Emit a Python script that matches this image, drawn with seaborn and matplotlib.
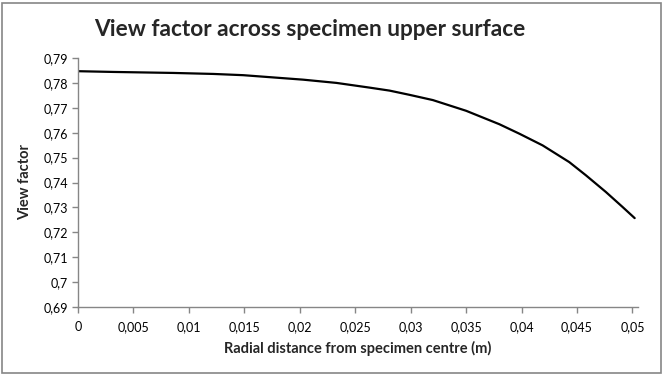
import matplotlib
matplotlib.use("Agg")
import matplotlib.pyplot as plt
import matplotlib.patches as mpatches
from matplotlib.ticker import FuncFormatter, MultipleLocator
import pandas as pd
import seaborn as sns

# Data
radial_distance = [0.0, 0.0032, 0.0086, 0.0122, 0.0149, 0.0173, 0.0203, 0.0233,
                   0.0263, 0.0281, 0.0299, 0.0320, 0.0350, 0.0380, 0.0398,
                   0.0419, 0.0443, 0.0458, 0.0476, 0.0491, 0.0502]
view_factor = [0.7847, 0.7844, 0.7840, 0.7836, 0.7831, 0.7823, 0.7813, 0.7800,
               0.7781, 0.7769, 0.7752, 0.7731, 0.7688, 0.7634, 0.7596,
               0.7549, 0.7482, 0.7429, 0.7362, 0.7302, 0.7257]

df = pd.DataFrame({"r": radial_distance, "vf": view_factor})

sns.set_style("white")
plt.rcParams["font.family"] = ["Lato", "DejaVu Sans"]

fig = plt.figure(figsize=(6.63, 3.74), dpi=100)
W, H = 663, 374
# plot area in pixels: left 78, right 638, top 58, bottom 307
ax = fig.add_axes([78 / W, 1 - 307 / H, (638 - 78) / W, (307 - 58) / H])

sns.lineplot(data=df, x="r", y="vf", ax=ax, color="black", linewidth=1.6)

ax.set_xlim(0, 0.0505)
ax.set_ylim(0.69, 0.79)
ax.xaxis.set_major_locator(MultipleLocator(0.005))
ax.yaxis.set_major_locator(MultipleLocator(0.01))


def comma_fmt(v, pos):
    return f"{round(v, 4):g}".replace(".", ",")


ax.xaxis.set_major_formatter(FuncFormatter(comma_fmt))
ax.yaxis.set_major_formatter(FuncFormatter(comma_fmt))

for side in ["top", "right"]:
    ax.spines[side].set_visible(False)
for side in ["left", "bottom"]:
    ax.spines[side].set_color("#868686")
    ax.spines[side].set_linewidth(1.0)

ax.tick_params(axis="both", direction="out", length=4, width=1, color="#868686",
               labelsize=9, labelcolor="black", left=True, bottom=True)
ax.tick_params(axis="x", pad=6)
ax.tick_params(axis="y", pad=3)

ax.set_xlabel("Radial distance from specimen centre (m)", fontsize=10.5,
              fontweight="bold", labelpad=6)
ax.set_ylabel("View factor", fontsize=10.5, fontweight="bold", labelpad=8)

fig.text(310 / W, 1 - 29 / H, "View factor across specimen upper surface",
         ha="center", va="center", fontsize=16.3, fontweight="bold")

# chart area border
fig.patches.append(mpatches.Rectangle((1.5 / W, 1.5 / H), (W - 4) / W, (H - 4) / H,
                                      transform=fig.transFigure, fill=False,
                                      edgecolor="#868686", linewidth=1.2))

fig.savefig("out.png", dpi=100)
